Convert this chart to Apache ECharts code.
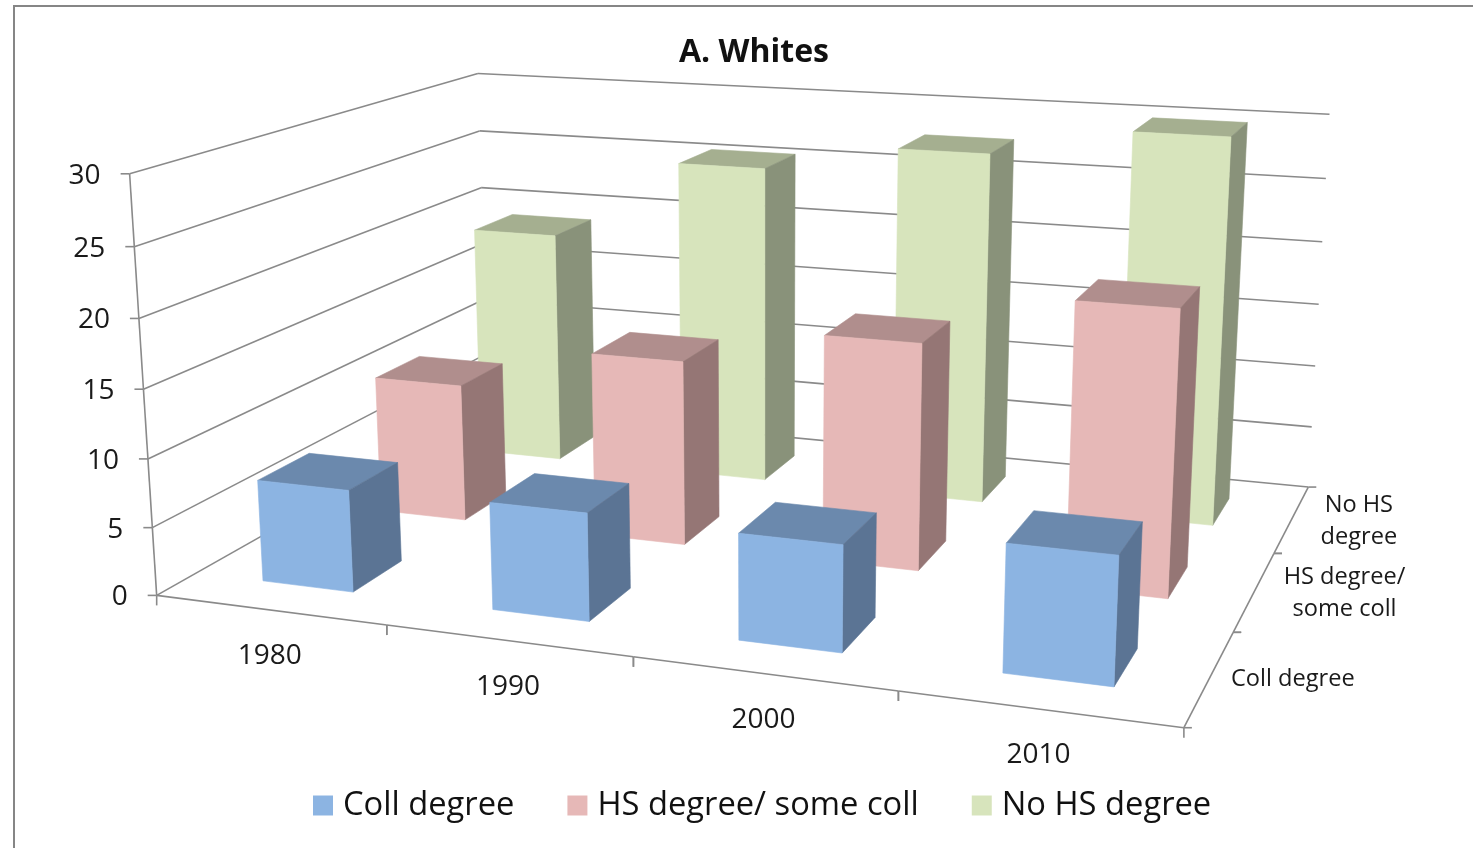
<!DOCTYPE html>
<html><head><meta charset="utf-8">
<style>html,body{margin:0;padding:0;background:#fff}#c{width:1473px;height:848px}</style>
<script src="https://cdn.jsdelivr.net/npm/echarts@6/dist/echarts.min.js"></script>
</head><body><div id="c"></div>
<script>
const categories = ['1980','1990','2000','2010'];
const seriesNames = ['Coll degree','HS degree/ some coll','No HS degree'];
const collDegree = [7.5,7.75,7.5,8.8];
const hsDegree = [10.65,14.05,16.9,20.8];
const noHsDegree = [18.9,25.45,27.6,29.85];
const yTicks = [0,5,10,15,20,25,30];
const depthLabels = ['Coll degree','HS degree/\nsome coll','No HS\ndegree'];
const depthLabelDx = [83,90,67];

const FONT = '"Open Sans", sans-serif';
const AXIS = '#8a8a8a';
const COLORS = [
  {front:'#8CB4E2',top:'#6B89AD',side:'#5B7494'},
  {front:'#E6B8B7',top:'#B08E8D',side:'#957675'},
  {front:'#D7E4BC',top:'#A5AF90',side:'#89927A'}
];
const BAR_W = 0.40, BAR_D = 0.41;

// Camera calibration: unit-box (u across, v depth, w height) -> screen anchors of the chart frame
const anchors = [
 [0,0,0,157,594],[.25,0,0,387,624],[.5,0,0,633,657],[.75,0,0,898,692],[1,0,0,1184,730],
 [0,0,1,130,175],[0,0,.5,143,388],[0,1,1,478,72],[0,1,.5,482,243],[0,1,0,488,412],
 [1,1,0,1308,485],[1,1,.5,1318,304],[1,1,1,1330,116],[1,1/3,0,1233,632],[1,2/3,0,1275,552]
];
function solveCamera(pts){
  const n=11, A=Array.from({length:n},()=>new Array(n+1).fill(0));
  const add=(r,b)=>{for(let i=0;i<n;i++){for(let j=0;j<n;j++)A[i][j]+=r[i]*r[j];A[i][n]+=r[i]*b;}};
  pts.forEach(([u,v,w,x,y])=>{
    add([u,v,w,1,0,0,0,0,-x*u,-x*v,-x*w],x);
    add([0,0,0,0,u,v,w,1,-y*u,-y*v,-y*w],y);
  });
  for(let c=0;c<n;c++){
    let p=c;for(let r=c+1;r<n;r++)if(Math.abs(A[r][c])>Math.abs(A[p][c]))p=r;
    [A[c],A[p]]=[A[p],A[c]];
    for(let r=0;r<n;r++){if(r===c)continue;const f=A[r][c]/A[c][c];for(let k=c;k<=n;k++)A[r][k]-=f*A[c][k];}
  }
  return A.map((row,i)=>row[n]/row[i]);
}
const P = solveCamera(anchors);
function proj(u,v,w){
  const d=P[8]*u+P[9]*v+P[10]*w+1;
  return [(P[0]*u+P[1]*v+P[2]*w+P[3])/d,(P[4]*u+P[5]*v+P[6]*w+P[7])/d];
}
const lineEl=(a,b,width)=>({type:'line',shape:{x1:a[0],y1:a[1],x2:b[0],y2:b[1]},style:{stroke:AXIS,lineWidth:width||1.6}});
const textEl=(t,x,y,size,align,lh)=>({type:'text',style:{text:t,x,y,fill:'#1a1a1a',fontSize:size,fontFamily:FONT,textAlign:align||'center',textVerticalAlign:'middle',lineHeight:lh||size*1.33}});
const poly=(pts,fill)=>({type:'polygon',shape:{points:pts},style:{fill,stroke:fill,lineWidth:0.6}});

function toUnit(api,point){
  const c=api.coord(point);
  return [c[0]/api.getWidth(),1-c[1]/api.getHeight()];
}
function barSeries(idx,name,values){
  const col=COLORS[idx];
  return {
    name,type:'custom',coordinateSystem:'cartesian2d',z:10-idx,silent:true,clip:false,
    itemStyle:{color:col.front},encode:{x:0,y:1},
    data:values.map((v,i)=>[i,v]),
    renderItem(params,api){
      const [u,w]=toUnit(api,[api.value(0),api.value(1)]);
      const halfU=api.size([1,0])[0]/api.getWidth()*BAR_W/2;
      const v0=(idx+.5-BAR_D/2)/3, v1=(idx+.5+BAR_D/2)/3, u0=u-halfU, u1=u+halfU;
      const f=[proj(u0,v0,0),proj(u1,v0,0),proj(u1,v0,w),proj(u0,v0,w)];
      const b=[proj(u1,v1,0),proj(u1,v1,w),proj(u0,v1,w)];
      return {type:'group',children:[
        poly([f[3],f[2],b[1],b[2]],col.top),
        poly([f[1],b[0],b[1],f[2]],col.side),
        poly(f,col.front)
      ]};
    }
  };
}
const yAxisSeries={
  name:'yAxis3d',type:'custom',coordinateSystem:'cartesian2d',z:1,silent:true,clip:false,encode:{x:0,y:1},
  data:yTicks.map(t=>[0,t]),
  renderItem(params,api){
    const val=api.value(1);
    const [,w]=toUnit(api,[0,val]);
    const a=proj(0,0,w),b=proj(0,1,w),c=proj(1,1,w);
    const kids=[lineEl(a,b),lineEl(b,c),lineEl([a[0]-9,a[1]],a),
      textEl(String(val),a[0]-29,a[1]+2,28,'right')];
    if(val>0){
      const [,w0]=toUnit(api,[0,val-yTicks[1]]);
      kids.push(lineEl(a,proj(0,0,w0)));
    }
    return {type:'group',children:kids};
  }
};
const xAxisSeries={
  name:'xAxis3d',type:'custom',coordinateSystem:'cartesian2d',z:1,silent:true,clip:false,encode:{x:0,y:1},
  data:categories.map((c,i)=>[i,0]),
  renderItem(params,api){
    const i=api.value(0);
    const [u]=toUnit(api,[i,0]);
    const du=api.size([1,0])[0]/api.getWidth()/2;
    const l=proj(u-du,0,0),r=proj(u+du,0,0),m=proj(u,0,0);
    const kids=[lineEl(l,r),lineEl(l,[l[0],l[1]+10]),lineEl(r,[r[0],r[1]+10]),
      textEl(categories[i],m[0],m[1]+46,28)];
    return {type:'group',children:kids};
  }
};
const depthAxisSeries={
  name:'depthAxis3d',type:'custom',coordinateSystem:'cartesian2d',z:1,silent:true,clip:false,encode:{x:0,y:1},
  data:depthLabels.map((c,i)=>[0,0,i]),
  renderItem(params,api){
    const j=api.value(2);
    const a=proj(1,j/3,0),b=proj(1,(j+1)/3,0),m=proj(1,(j+.5)/3,0);
    return {type:'group',children:[lineEl(a,b),lineEl(a,[a[0]+8,a[1]]),lineEl(b,[b[0]+8,b[1]]),
      textEl(depthLabels[j],m[0]+depthLabelDx[j],m[1]+2,23.6,'center',32)]};
  }
};

const chart=echarts.init(document.getElementById('c'),null,{renderer:'canvas'});
chart.setOption({
  animation:false,backgroundColor:'#fff',
  title:{text:'A. Whites',left:749,top:32,textAlign:'center',textStyle:{fontFamily:FONT,fontSize:32,fontWeight:'bold',color:'#111'}},
  grid:{left:0,right:0,top:0,bottom:0},
  xAxis:{type:'category',data:categories,show:false},
  yAxis:{type:'value',min:0,max:30,interval:5,show:false},
  legend:{data:seriesNames,left:308,top:784,icon:'rect',itemWidth:20,itemHeight:20,itemGap:53,selectedMode:false,
    textStyle:{fontFamily:FONT,fontSize:32.7,color:'#111',padding:[0,0,0,5]}},
  graphic:[
    {type:'line',shape:{x1:13,y1:6,x2:1473,y2:6},style:{stroke:'#868686',lineWidth:2}},
    {type:'line',shape:{x1:14,y1:6,x2:14,y2:848},style:{stroke:'#868686',lineWidth:2}}
  ],
  series:[barSeries(0,seriesNames[0],collDegree),barSeries(1,seriesNames[1],hsDegree),barSeries(2,seriesNames[2],noHsDegree),yAxisSeries,xAxisSeries,depthAxisSeries]
});
</script></body></html>
